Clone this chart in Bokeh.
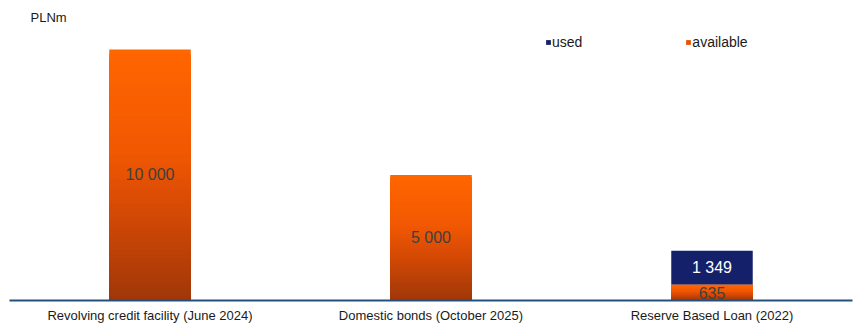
from bokeh.plotting import figure
from bokeh.models import (ColumnDataSource, FactorRange, Range1d, Label, Legend,
                          LegendItem)
from bokeh.embed import file_html
from bokeh.resources import INLINE

# ---- data ----
categories = ["Revolving credit facility (June 2024)",
              "Domestic bonds (October 2025)",
              "Reserve Based Loan (2022)"]
available = [10000, 5000, 635]
used = [0, 0, 1349]

# ---- styles ----
FONT = "Liberation Sans"
NAVY = "#14216A"
ORANGE_STOPS = [(0.0, (160, 55, 8)), (0.35, (212, 73, 5)),
                (0.6, (242, 88, 2)), (1.0, (255, 102, 0))]
BAR_W = 0.29


def grad_color(t):
    for (t0, c0), (t1, c1) in zip(ORANGE_STOPS[:-1], ORANGE_STOPS[1:]):
        if t0 <= t <= t1:
            f = (t - t0) / (t1 - t0) if t1 > t0 else 0
            r, g, b = (round(a + (bb - a) * f) for a, bb in zip(c0, c1))
            return "#%02x%02x%02x" % (r, g, b)
    return "#%02x%02x%02x" % ORANGE_STOPS[-1][1]


def fmt(v):
    return f"{v:,}".replace(",", " ")


p = figure(x_range=FactorRange(*categories, range_padding=0, factor_padding=0),
           y_range=Range1d(0, 11950),
           width=856, height=325, output_backend="svg", toolbar_location=None,
           min_border_left=9, min_border_right=4, min_border_top=0,
           min_border_bottom=25)

# gradient-filled "available" bars: nested bars, tallest (brightest) first
N = 60
xs, bots, tops, cols = [], [], [], []
for cat, a in zip(categories, available):
    for k in range(N, 0, -1):
        frac = k / N
        xs.append(cat)
        bots.append(0)
        tops.append(a * frac)
        cols.append(grad_color(frac - 0.5 / N))
grad_src = ColumnDataSource(dict(x=xs, bottom=bots, top=tops, color=cols))
p.vbar(x="x", bottom="bottom", top="top", width=BAR_W, fill_color="color",
       line_color=None, source=grad_src)

# "used" bar stacked on top of available
src = ColumnDataSource(dict(cat=categories, available=available, used=used,
                            total=[a + u for a, u in zip(available, used)]))
used_r = p.vbar(x="cat", bottom="available", top="total", width=BAR_W,
                fill_color=NAVY, line_color=None, source=src)

# legend proxy for "available"
avail_r = p.vbar(x=[categories[0]], top=[0], width=0.0,
                 fill_color="#E85206", line_color=None)

# value labels
lab_x, lab_y, lab_t = [], [], []
for cat, a in zip(categories, available):
    lab_x.append(cat); lab_y.append(a / 2); lab_t.append(fmt(a))
p.text(x=lab_x, y=lab_y, text=lab_t, text_align="center",
       text_baseline="middle", text_font_size="16px", text_color="#404040",
       text_font={"value": FONT})
ux, uy, ut = [], [], []
for cat, a, u in zip(categories, available, used):
    if u > 0:
        ux.append(cat); uy.append(a + u / 2); ut.append(fmt(u))
p.text(x=ux, y=uy, text=ut, text_align="center", text_baseline="middle",
       text_font_size="16px", text_color="white", text_font={"value": FONT})

# unit label
p.add_layout(Label(x=21, y=283, x_units="screen", y_units="screen",
                   text="PLNm", text_font=FONT, text_font_size="13px",
                   text_color="#1a1a1a", text_baseline="middle"))

legend = Legend(items=[LegendItem(label="used", renderers=[used_r]),
                       LegendItem(label="available", renderers=[avail_r])],
                orientation="horizontal", location=(536, 250),
                glyph_width=6, glyph_height=6, label_standoff=1,
                spacing=103, padding=0, margin=0, label_height=14,
                label_text_font=FONT, label_text_font_size="14px",
                label_text_color="#1a1a1a", border_line_color=None,
                background_fill_alpha=0)
p.add_layout(legend, "center")

# axes & grid
p.yaxis.visible = False
p.xgrid.grid_line_color = None
p.ygrid.grid_line_color = None
p.outline_line_color = None
p.xaxis.axis_line_color = "#24507F"
p.xaxis.axis_line_width = 2
p.xaxis.major_tick_line_color = None
p.xaxis.minor_tick_line_color = None
p.xaxis.major_tick_out = 0
p.xaxis.major_tick_in = 0
p.xaxis.minor_tick_out = 0
p.xaxis.minor_tick_in = 0
p.xaxis.major_label_standoff = 7
p.xaxis.major_label_text_font = FONT
p.xaxis.major_label_text_font_size = "13px"
p.xaxis.major_label_text_color = "#1a1a1a"

open("out.html", "w").write(file_html(p, INLINE))
